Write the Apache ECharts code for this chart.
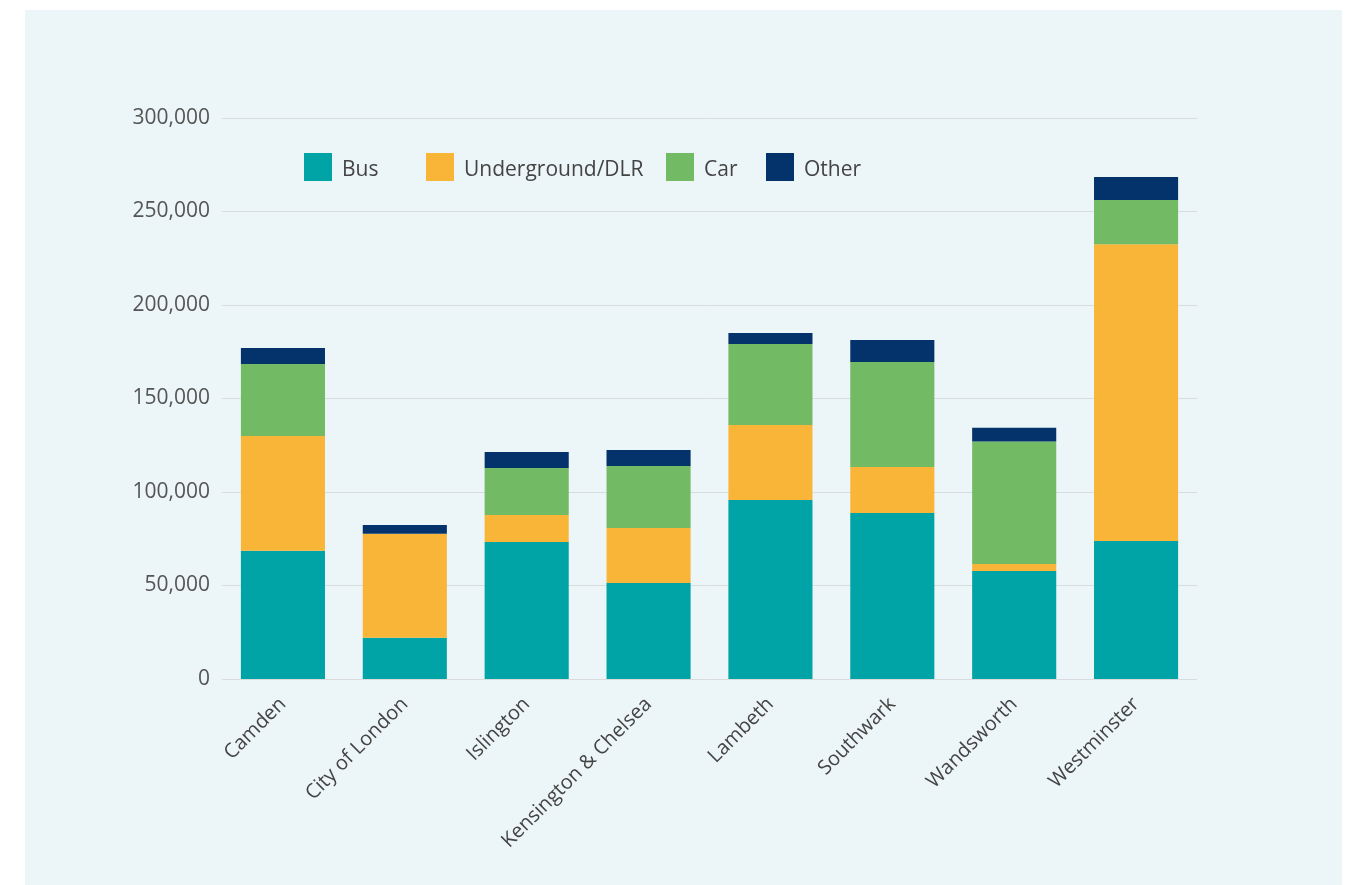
<!DOCTYPE html>
<html>
<head>
<meta charset="utf-8">
<script src="https://cdn.jsdelivr.net/npm/echarts@6/dist/echarts.min.js"></script>
<style>
  html, body { margin: 0; padding: 0; background: #ffffff; }
  #panel { position: absolute; left: 25px; top: 10px; width: 1317px; height: 875px; background: #ECF5F7; }
  #chart { position: absolute; left: 0; top: 0; width: 1361px; height: 885px; }
</style>
</head>
<body>
<div id="panel"></div>
<div id="chart"></div>
<script>
const categories = ["Camden", "City of London", "Islington", "Kensington & Chelsea", "Lambeth", "Southwark", "Wandsworth", "Westminster"];
const bus =         [68600, 22100, 73300, 51300, 95700, 88800, 57700, 73800];
const underground = [61300, 55600, 14400, 29400, 40100, 24600,  3800, 158700];
const car =         [38500,     0, 25100, 33150, 43300, 56150, 65450, 23700];
const other =       [ 8550,  4650,  8600,  8550,  5900, 11750,  7450, 12300];
const seriesNames = ["Bus", "Underground/DLR", "Car", "Other"];
const colors = ["#00A4A7", "#F9B538", "#73BA65", "#04326B"];

const font = "'Open Sans', 'Noto Sans', sans-serif";
const chart = echarts.init(document.getElementById('chart'), null, { renderer: 'canvas' });

const legendLefts = [304, 426, 666, 766];
const legends = seriesNames.map((n, i) => ({
  data: [n],
  left: legendLefts[i],
  top: 153,
  padding: 0,
  itemWidth: 28,
  itemHeight: 28,
  itemGap: 0,
  icon: 'rect',
  selectedMode: false,
  formatter: name => '{t|' + name + '}',
  textStyle: {
    fontFamily: font, fontSize: 21, color: '#444',
    rich: { t: { fontFamily: font, fontSize: 21, color: '#444', padding: [7, 0, 0, 5] } }
  }
}));

const dataSets = [bus, underground, car, other];

chart.setOption({
  animation: false,
  color: colors,
  legend: legends,
  grid: { left: 222, right: 164, top: 118, bottom: 206, containLabel: false },
  xAxis: {
    type: 'category',
    data: categories,
    axisLine: { show: false },
    axisTick: { show: false },
    axisLabel: {
      rotate: 45,
      interval: 0,
      margin: 22,
      fontFamily: font,
      fontSize: 20,
      color: '#444'
    }
  },
  yAxis: {
    type: 'value',
    min: 0,
    max: 300000,
    interval: 50000,
    axisLine: { show: false },
    axisTick: { show: false },
    splitLine: { lineStyle: { color: '#D9DCDD', width: 1 } },
    axisLabel: {
      margin: 12,
      fontFamily: font,
      fontSize: 21,
      color: '#555',
      formatter: v => v.toLocaleString('en-US')
    }
  },
  series: seriesNames.map((n, i) => ({
    name: n,
    type: 'bar',
    stack: 'total',
    barCategoryGap: '31%',
    data: dataSets[i],
    itemStyle: { color: colors[i] }
  }))
});
</script>
</body>
</html>
